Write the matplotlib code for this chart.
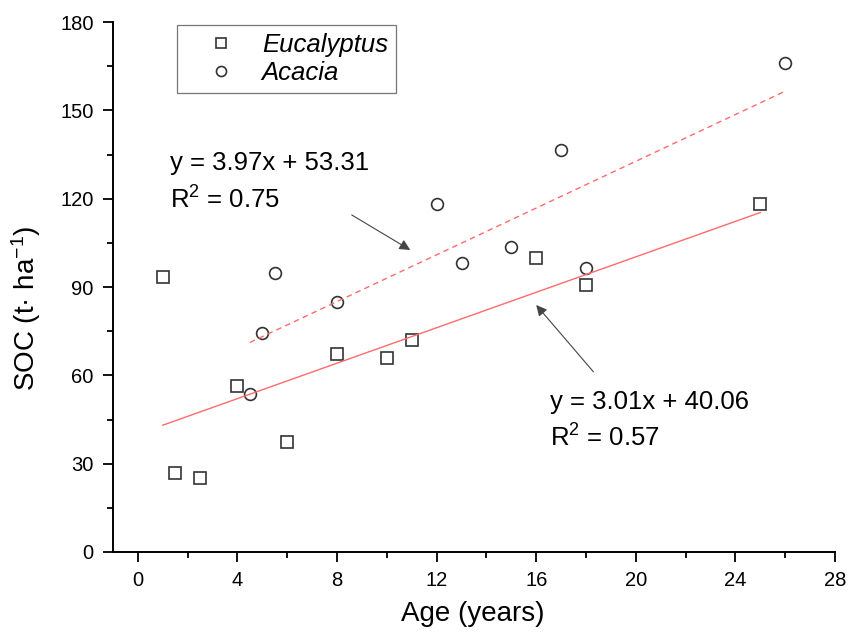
import matplotlib
matplotlib.use("Agg")
import matplotlib.pyplot as plt
import numpy as np

plt.rcParams['font.family'] = ['Liberation Sans', 'DejaVu Sans']
plt.rcParams['mathtext.fontset'] = 'custom'
plt.rcParams['mathtext.rm'] = 'Liberation Sans'
plt.rcParams['mathtext.it'] = 'Liberation Sans:italic'

# data
euc_age = [1, 1.5, 2.5, 4, 6, 8, 10, 11, 16, 18, 25]
euc_soc = [93.5, 26.7, 25.2, 56.5, 37.3, 67.1, 66.0, 72.1, 100.0, 90.7, 118.2]
aca_age = [4.5, 5, 5.5, 8, 12, 13, 15, 17, 18, 26]
aca_soc = [53.6, 74.5, 94.9, 85.0, 118.1, 98.3, 103.5, 136.4, 96.4, 166.0]

# regression lines (slope, intercept) as printed on the chart
euc_fit = (3.01, 40.06)
aca_fit = (3.97, 53.31)

fig = plt.figure(figsize=(8.59, 6.32), dpi=100)
ax = fig.add_axes([0.1315, 0.1266, 0.8405, 0.8384])

mk = dict(linestyle='none', markerfacecolor='none', markeredgecolor='#333333',
          markeredgewidth=1.2, markersize=8.5)
ax.plot(euc_age, euc_soc, marker='s', label='Eucalyptus', **mk)
ax.plot(aca_age, aca_soc, marker='o', label='Acacia', **mk)

xe = np.array([min(euc_age), max(euc_age)])
ax.plot(xe, euc_fit[0] * xe + euc_fit[1], color='#ff6b6b', lw=1.0)
xa = np.array([min(aca_age), max(aca_age)])
ax.plot(xa, aca_fit[0] * xa + aca_fit[1], color='#ff6b6b', lw=1.0, ls=(0, (4, 3)))

ax.set_xlim(-1, 28)
ax.set_ylim(0, 180)
ax.set_xticks(range(0, 29, 4))
ax.set_xticks(range(2, 28, 4), minor=True)
ax.set_yticks(range(0, 181, 30))
ax.set_yticks(range(15, 180, 30), minor=True)

for s in ['top', 'right']:
    ax.spines[s].set_visible(False)
for s in ['left', 'bottom']:
    ax.spines[s].set_linewidth(1.4)
ax.tick_params(which='major', length=7, width=1.3, labelsize=14.5, pad=7)
ax.tick_params(which='minor', length=4, width=1.3)

ax.set_xlabel('Age (years)', fontsize=20)
ax.xaxis.set_label_coords(0.499, -0.093)
ax.set_ylabel('SOC (t· ha$^{-1}$)', fontsize=20)
ax.yaxis.set_label_coords(-0.097, 0.46)

ax.text(1.31, 132, 'y = 3.97x + 53.31', fontsize=18.5, va='center')
ax.text(1.31, 119.6, 'R$^2$ = 0.75', fontsize=18.5, va='center')
ax.text(16.56, 51.0, 'y = 3.01x + 40.06', fontsize=18.5, va='center')
ax.text(16.56, 38.7, 'R$^2$ = 0.57', fontsize=18.5, va='center')

arr = dict(arrowstyle='-|>', color='#444444', lw=0.8, mutation_scale=16,
           shrinkA=0, shrinkB=0)
ax.annotate('', xy=(10.94, 102.6), xytext=(8.59, 114.5), arrowprops=arr)
ax.annotate('', xy=(16.0, 83.9), xytext=(18.3, 61.2), arrowprops=arr)

leg = ax.legend(loc='upper left', bbox_to_anchor=(0.0886, 0.994), borderaxespad=0,
                fancybox=False, edgecolor='#555555', prop={'style': 'italic', 'size': 18.5},
                handletextpad=0.2, borderpad=0.3, labelspacing=0.15, handlelength=2.8,
                markerscale=0.85)
leg.get_frame().set_linewidth(0.9)

fig.savefig('out.png', dpi=100)
